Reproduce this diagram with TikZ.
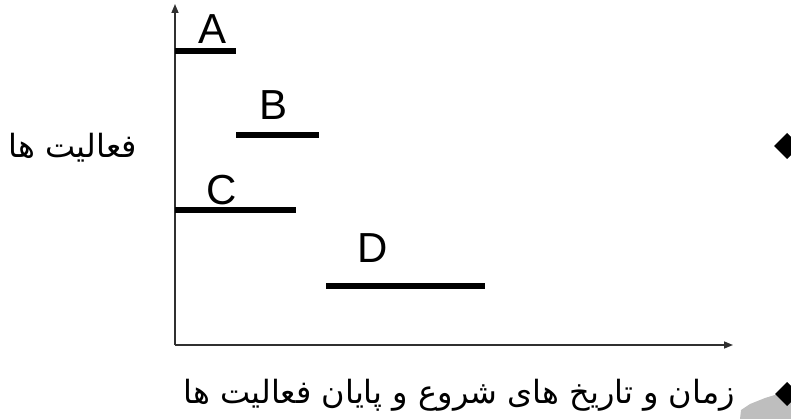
\documentclass[tikz,border=0pt]{standalone}
\usepackage{fontspec}
\setmainfont{Liberation Sans}
\newfontfamily\arabicfont[Script=Arabic]{DejaVu Sans}
\TeXXeTstate=1
\usetikzlibrary{arrows.meta}
\definecolor{ink}{HTML}{000000}
\definecolor{axisgray}{HTML}{303030}
\definecolor{blob}{HTML}{BEBEBE}

\begin{document}
\begin{tikzpicture}[x=1pt,y=-1pt,text=ink,>={Triangle[length=9pt,width=7pt]},
    axis/.style={axisgray,line width=1.5pt},
    bar/.style={ink,line width=6.5pt},
    tag/.style={font=\fontsize{42}{42}\selectfont,anchor=base,inner sep=0pt},
    label/.style={font=\arabicfont\fontsize{32}{36}\selectfont,anchor=base,inner sep=0pt},
    bullet/.style={fill=ink}]
  \useasboundingbox (0,0) rectangle (791,419);
  % axes
  \coordinate (o) at (175,345);
  \coordinate (ytip) at (175,4);
  \coordinate (xtip) at (733,345);
  \draw[axis,->] (o) -- (ytip);
  \draw[axis,->] (o) -- (xtip);
  % activity bars
  \foreach \n/\xa/\xb/\y/\xt/\yt in {A/175/236/51/213/44,B/236/319/135/274/120,C/175/296/210/222/205,D/326/485/286/373/262}{
    \draw[bar] (\xa,\y) -- (\xb,\y);
    \node[tag] (tag\n) at (\xt,\yt) {\n};
  }
  % axis labels
  \node[label,anchor=base east] (ylabel) at (137,158) {\beginR فعالیت ها\endR};
  \node[label,anchor=base east] (xlabel) at (735,403) {\beginR زمان و تاریخ های شروع و پایان فعالیت ها\endR};
  % slide decoration
  \fill[blob] (740,419) -- (741,410) -- (750,404) -- (765,398) -- (778,394) -- (791,395) -- (791,419) -- cycle;
  \fill[bullet] (787,133) -- (800,146) -- (787,159) -- (774,146) -- cycle;
  \fill[bullet] (787,382) -- (799,394) -- (787,406) -- (775,394) -- cycle;
\end{tikzpicture}
\end{document}
